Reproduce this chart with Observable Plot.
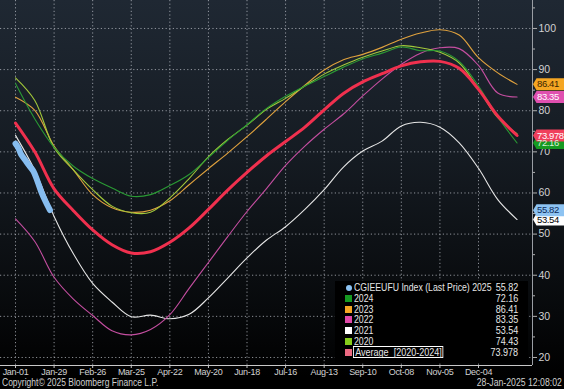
<!DOCTYPE html>
<html>
<head>
<meta charset="utf-8">
<script src="https://cdn.jsdelivr.net/npm/d3@7"></script>
<script src="https://cdn.jsdelivr.net/npm/@observablehq/plot@0.6"></script>
<style>
html,body{margin:0;padding:0;background:#000;}
#wrap{position:relative;width:564px;height:389px;overflow:hidden;
  background:linear-gradient(to bottom,#1f2833 0%,#151b22 40%,#07090b 80%,#000 97%);
  font-family:"Liberation Sans",Arial,sans-serif;}
#chart svg{display:block;}
#chart svg g[aria-label="text"] text{letter-spacing:-0.4px;}
#chart svg g[aria-label="x-axis tick label"] text{letter-spacing:-0.3px;}
#legend{position:absolute;left:335px;top:281px;width:193px;height:82px;background:#000;color:#e6e6e6;font-size:10.5px;}
#legend .row{position:absolute;left:0;width:193px;height:10.8px;line-height:10.8px;white-space:pre;}
#legend .sw{position:absolute;left:10px;top:2px;width:7px;height:7px;}
#legend .dot{position:absolute;left:11px;top:2.5px;width:6px;height:6px;border-radius:50%;}
#legend .lab{position:absolute;left:19px;top:0;transform:scaleX(0.83);transform-origin:left center;}
#legend .lab.boxed{left:17.5px;top:-0.5px;height:10px;line-height:10px;border:1px solid #fff;padding:0 1px 0 1.5px;transform:scaleX(0.86);}
#legend .val{position:absolute;right:10px;top:0;transform:scaleX(0.86);transform-origin:right center;}
#footer{position:absolute;left:0;top:377px;width:564px;height:12px;line-height:12px;background:#000;color:#cfcfcf;font-size:10px;}
#footer .l{position:absolute;left:2px;transform:scaleX(0.85);transform-origin:left center;}
#footer .r{position:absolute;right:2px;transform:scaleX(0.87);transform-origin:right center;}
</style>
</head>
<body>
<div id="wrap">
  <div id="chart"></div>
  <div id="legend"></div>
  <div id="footer"><span class="l">Copyright© 2025 Bloomberg Finance L.P.</span><span class="r">28-Jan-2025 12:08:02</span></div>
</div>
<script>
// ---- data (day of year) ----
const dayGrid = [0,14,28,42,56,70,84,98,112,126,140,154,168,182,196,210,224,238,252,266,280,294,308,322,336,350,364];
const vals2020 = [88.0,82.5,71.0,65.6,60.8,56.8,55.2,55.3,58.8,63.5,68.8,73.0,76.5,80.3,83.0,86.0,88.9,91.1,93.0,94.5,95.8,95.3,94.2,91.6,85.3,78.3,74.43];
const vals2021 = [74.0,65.5,54.3,45.2,38.0,33.5,29.9,30.3,29.4,30.5,34.5,39.3,44.2,48.5,51.8,56.0,60.8,66.3,70.2,72.6,76.3,77.2,76.0,72.2,66.0,58.4,53.54];
const vals2022 = [53.7,48.2,39.5,34.2,30.2,26.5,25.5,26.8,30.4,36.8,43.1,49.4,55.5,61.0,66.7,71.4,75.5,79.2,83.6,87.7,91.3,94.0,95.3,95.1,91.0,84.3,83.35];
const vals2023 = [83.3,80.1,71.4,65.6,59.6,56.4,55.3,55.8,58.1,62.0,65.9,69.7,73.7,77.9,82.2,86.2,89.9,92.4,93.7,95.4,97.4,98.9,99.7,98.4,92.9,89.2,86.41];
const vals2024 = [86.6,78.0,71.1,66.5,63.5,61.2,59.2,59.6,61.8,64.5,68.6,72.8,76.6,80.5,83.5,86.0,88.3,90.6,92.6,94.0,95.5,94.6,94.5,92.0,86.0,78.5,72.16];
const valsAvg  = [77.0,70.0,61.0,55.7,51.0,47.4,45.4,45.7,48.0,51.5,56.0,60.7,65.0,69.0,72.5,76.0,80.2,84.2,87.0,89.0,90.9,91.9,92.0,90.3,85.2,78.7,73.978];
const days2025 = [0,2,4,7,10,13,16,19,22,25];
const vals2025 = [72.0,71.0,69.4,68.0,66.6,65.3,62.8,60.0,57.8,55.82];

const tickDays   = [0,28,56,84,112,140,168,196,224,252,280,308,336];
const tickLabels = ["Jan-01","Jan-29","Feb-26","Mar-25","Apr-22","May-20","Jun-18","Jul-16","Aug-13","Sep-10","Oct-08","Nov-05","Dec-04"];
const yTicks     = [20,30,40,50,60,70,80,90,100];
const yMinor     = [25,35,45,55,65,75,85,95,105];

const legendNames  = ["CGIEEUFU Index (Last Price) 2025","2024","2023","2022","2021","2020","Average  [2020-2024]"];
const legendValues = ["55.82","72.16","86.41","83.35","53.54","74.43","73.978"];
const legendColors = ["#8dc3f2","#169a22","#f5a623","#e048a8","#ffffff","#86cc1c","#ee6a82"];

const lineColors = {y2020:"#a2c83a", y2021:"#e6e6e6", y2022:"#c44ea0", y2023:"#e0a23e", y2024:"#2a9a34", avg:"#f0304e", y2025:"#86bdf0"};

// value tags on the right axis (drawn in this order)
const tagValues = [53.54, 55.82, 72.16, 73.978, 83.35, 86.41];
const tagLabels = ["53.54","55.82","72.16","73.978","83.35","86.41"];
const tagFill   = ["#ffffff","#8dc3f2","#169a22","#f0405c","#e050b0","#f5a623"];
const tagText   = ["#000000","#0b2a5a","#d8f0d8","#ffffff","#ffffff","#3a2500"];

// ---- build tables ----
const mk = (days, vals) => days.map((d, i) => ({day: d, value: vals[i]}));
const s2020 = mk(dayGrid, vals2020), s2021 = mk(dayGrid, vals2021), s2022 = mk(dayGrid, vals2022);
const s2023 = mk(dayGrid, vals2023), s2024 = mk(dayGrid, vals2024), sAvg = mk(dayGrid, valsAvg);
const s2025 = mk(days2025, vals2025);
const tags = tagValues.map((v, i) => ({value: v, label: tagLabels[i], fill: tagFill[i], text: tagText[i]}));

const tagSymbol = {
  draw(ctx) {
    ctx.moveTo(-0.5, 0);
    ctx.lineTo(3, -6);
    ctx.lineTo(32, -6);
    ctx.lineTo(32, 6);
    ctx.lineTo(3, 6);
    ctx.closePath();
  }
};

const xDomain = [-10.9, 375.2];
const yDomain = [18.05, 106.8];
const gridStyle = {stroke: "#b9bec5", strokeOpacity: 0.75, strokeDasharray: "1.2,2.4", strokeWidth: 1};
const curve = "catmull-rom";

const chart = Plot.plot({
  width: 564,
  height: 377,
  marginLeft: 0,
  marginRight: 32,
  marginTop: 0,
  marginBottom: 12,
  style: {background: "transparent", color: "#d2d2d2", fontFamily: "'Liberation Sans',Arial,sans-serif", overflow: "visible"},
  x: {domain: xDomain, label: null},
  y: {domain: yDomain, label: null},
  color: {type: "identity"},
  marks: [
    Plot.gridX(tickDays, gridStyle),
    Plot.gridY(yTicks, gridStyle),
    Plot.ruleX([xDomain[1]], {stroke: "#9a9ea4", strokeWidth: 1}),
    Plot.ruleY([yDomain[0]], {stroke: "#c8c8c8", strokeWidth: 1}),
    Plot.axisX(tickDays, {label: null, tickFormat: d => tickLabels[tickDays.indexOf(d)], tickSize: 3, tickPadding: 0, fontSize: 9, stroke: "#c8c8c8"}),
    Plot.axisY(yTicks, {label: null, anchor: "right", tickSize: 4, tickPadding: 2, textAnchor: "start", fontSize: 10.5, stroke: "#b0b0b0"}),
    Plot.axisY(yMinor.filter(v => v < yDomain[1]), {label: null, anchor: "right", tickSize: 2, tickFormat: () => "", stroke: "#b0b0b0"}),
    Plot.line(s2021, {x: "day", y: "value", stroke: lineColors.y2021, strokeWidth: 1.1, curve}),
    Plot.line(s2022, {x: "day", y: "value", stroke: lineColors.y2022, strokeWidth: 1.1, curve}),
    Plot.line(s2023, {x: "day", y: "value", stroke: lineColors.y2023, strokeWidth: 1.1, curve}),
    Plot.line(s2020, {x: "day", y: "value", stroke: lineColors.y2020, strokeWidth: 1.1, curve}),
    Plot.line(s2024, {x: "day", y: "value", stroke: lineColors.y2024, strokeWidth: 1.1, curve}),
    Plot.line(sAvg,  {x: "day", y: "value", stroke: lineColors.avg, strokeWidth: 3, curve}),
    Plot.line(s2025, {x: "day", y: "value", stroke: lineColors.y2025, strokeWidth: 6, strokeLinecap: "round", strokeLinejoin: "round", curve}),
    Plot.dot(tags, {y: "value", frameAnchor: "right", dx: 1, r: 6, symbol: tagSymbol, fill: "fill", stroke: "none"}),
    Plot.text(tags, {y: "value", text: "label", frameAnchor: "right", dx: 4.5, textAnchor: "start", fill: "text", fontSize: 9.5})
  ]
});
document.getElementById("chart").appendChild(chart);

// ---- legend ----
const legend = document.getElementById("legend");
legendNames.forEach((name, i) => {
  const row = document.createElement("div");
  row.className = "row";
  row.style.top = (1 + i * 10.8) + "px";
  const sw = document.createElement("div");
  sw.className = i === 0 ? "dot" : "sw";
  sw.style.background = legendColors[i];
  const lab = document.createElement("div");
  lab.className = "lab" + (i === legendNames.length - 1 ? " boxed" : "");
  lab.textContent = name;
  const val = document.createElement("div");
  val.className = "val";
  val.textContent = legendValues[i];
  row.append(sw, lab, val);
  legend.appendChild(row);
});
</script>
</body>
</html>
